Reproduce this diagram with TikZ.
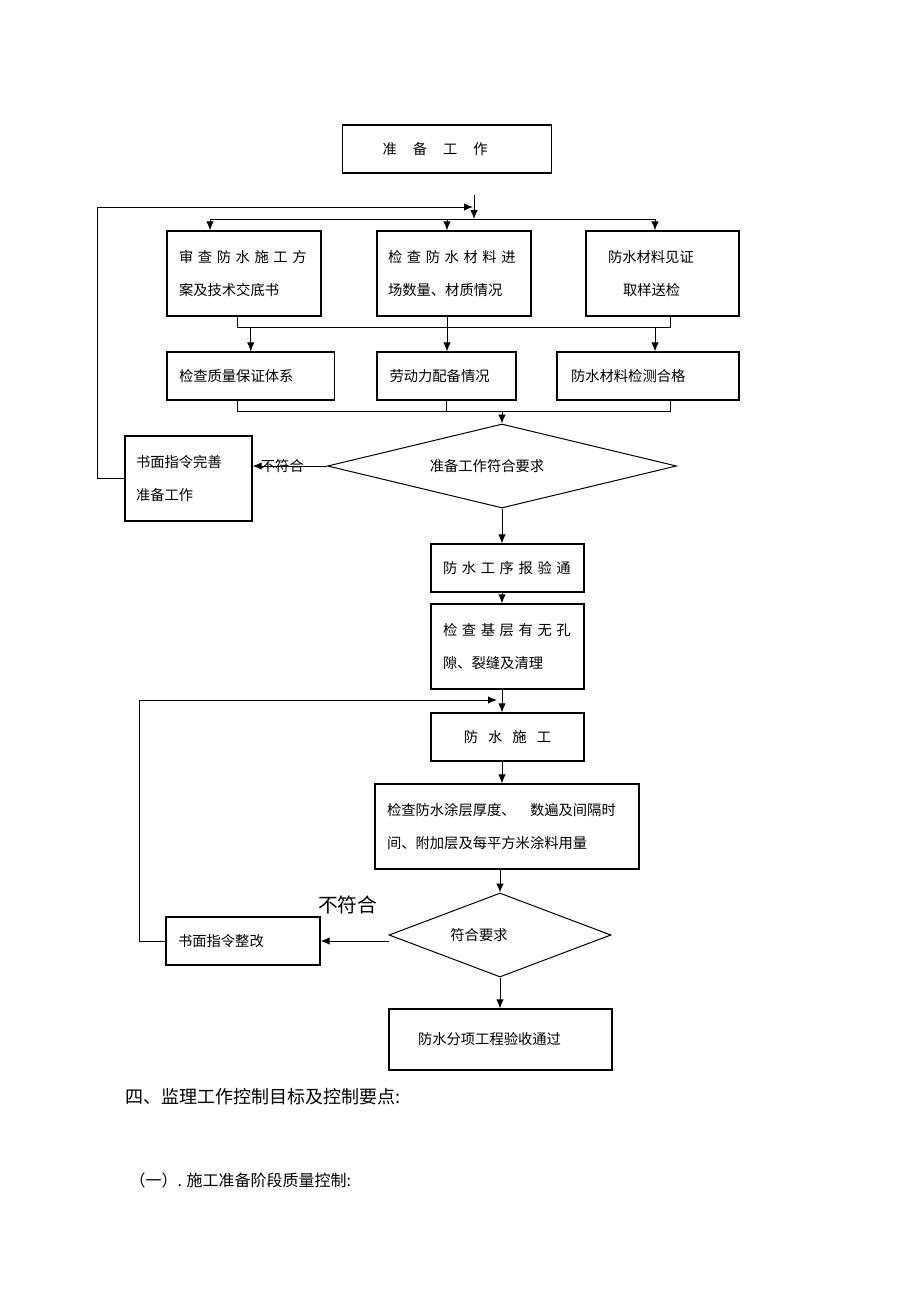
\documentclass[tikz,border=0pt]{standalone}
\usepackage{tikz}
\usepackage{fontspec}
\usetikzlibrary{shapes.geometric}
\usetikzlibrary{arrows.meta}
\newfontfamily\cjk{Noto Sans CJK SC}
\newcommand{\jg}[1][4.6pt]{\hspace{#1}}

\begin{document}
\begin{tikzpicture}[x=1pt, y=-1pt, line width=1pt,
    >={Latex[length=9pt,width=7.5pt]},
    box/.style={draw, line width=1.3pt, align=left, inner ysep=0pt,
        font=\cjk\fontsize{14.3pt}{33pt}\selectfont},
    diam/.style={draw, shape=diamond, line width=1pt, inner sep=0pt,
        font=\cjk\fontsize{14.3pt}{17pt}\selectfont},
    merge/.style={line width=0.8pt},
    note/.style={inner sep=0pt, font=\cjk\fontsize{14.3pt}{17pt}\selectfont}]
    \useasboundingbox (0, 0) rectangle (920, 1303);

    \path (447, 149) node [box, text width=129pt, inner xsep=40pt, minimum height=48pt] (zb) {准\jg[16pt]备\jg[16pt]工\jg[16pt]作};
    \path (474, 195) coordinate (top) (474, 219) coordinate (split);
    \draw [->] (top) -- (split);
    \path (210, 219) coordinate (sl) (447, 219) coordinate (sm) (655, 219) coordinate (sr);
    \draw (sl) -- (sr);

    \path (244, 273.5) node [box, text width=130pt, inner xsep=12pt, minimum height=85pt] (fa)
        {审\jg 查\jg 防\jg 水\jg 施\jg 工\jg 方\\案及技术交底书};
    \path (454, 273.5) node [box, text width=132pt, inner xsep=11pt, minimum height=85pt] (cl)
        {检\jg 查\jg 防\jg 水\jg 材\jg 料\jg 进\\场数量、材质情况};
    \path (662.5, 273.5) node [box, text width=109pt, inner xsep=22pt, minimum height=85pt] (jz)
        {防水材料见证\\\hspace*{15pt}取样送检};
    \draw [->] (sl) -- (sl |- fa.north);
    \draw [->] (sm) -- (sm |- cl.north);
    \draw [->] (sr) -- (sr |- jz.north);

    \path (237, 327) coordinate (m1l) (447, 327) coordinate (m1m) (670, 327) coordinate (m1r);
    \draw [merge] (m1l |- fa.south) -- (m1l) -- (m1r) -- (m1r |- jz.south);
    \draw [merge] (m1m |- cl.south) -- (m1m);

    \path (250.75, 376) node [box, text width=143.5pt, inner xsep=12pt, minimum height=48pt] (zl) {检查质量保证体系};
    \path (446.5, 376) node [box, text width=114pt, inner xsep=12.5pt, minimum height=48pt] (ld) {劳动力配备情况};
    \path (648, 376) node [box, text width=154pt, inner xsep=14pt, minimum height=48pt] (jc) {防水材料检测合格};
    \draw [->] (zl |- m1l) -- (zl.north);
    \draw [->] (m1m) -- (m1m |- ld.north);
    \draw [->] (sr |- m1r) -- (sr |- jc.north);

    \path (237, 411) coordinate (m2l) (670, 411) coordinate (m2r);
    \draw [merge] (m2l |- zl.south) -- (m2l) -- (m2r) -- (m2r |- jc.south);
    \draw [merge] (ld.south) -- (ld |- m2l);

    \path (502, 466) node [diam, minimum width=349pt, minimum height=84pt, aspect=4.15] (fh)
        {准备工作符合要求\hspace{30pt}\mbox{}};
    \draw [->] (fh |- m2l) -- (fh.north);

    \path (188.5, 478.5) node [box, text width=105pt, inner xsep=11pt, minimum height=85pt] (ws)
        {书面指令完善\\准备工作};
    \draw [->] (fh.west) -- (fh.west -| ws.east) node [note, pos=0.6] (bf1) {不符合};
    \path (97.6, 207) coordinate (fbc1) (473, 207) coordinate (fb1);
    \draw [->] (ws.west) -| (fbc1) -- (fb1);

    \path (507.5, 568) node [box, text width=129pt, inner xsep=12pt, minimum height=48pt] (bj)
        {防\jg 水\jg 工\jg 序\jg 报\jg 验\jg 通};
    \path (507.5, 646.5) node [box, text width=129pt, inner xsep=12pt, minimum height=85pt] (jj)
        {检\jg 查\jg 基\jg 层\jg 有\jg 无\jg 孔\\隙、裂缝及清理};
    \path (507.5, 737) node [box, text width=129pt, inner xsep=12pt, minimum height=48pt, align=center] (sg)
        {防\jg[10pt]水\jg[10pt]施\jg[10pt]工};
    \path (507, 826.5) node [box, text width=240pt, inner xsep=12pt, minimum height=85pt] (tc)
        {检查防水涂层厚度、　数遍及间隔时\\间、附加层及每平方米涂料用量};
    \draw [->] (fh.south) -- (fh |- bj.north);
    \draw [->] (fh |- bj.south) -- (fh |- jj.north);
    \draw [->] (fh |- jj.south) -- (fh |- sg.north);
    \draw [->] (fh |- sg.south) -- (fh |- tc.north);

    \path (500, 935) node [diam, minimum width=222pt, minimum height=84pt, aspect=2.64] (fy)
        {符合要求\hspace{42pt}\mbox{}};
    \draw [->] (fy |- tc.south) -- (fy.north);

    \path (243, 941) node [box, text width=130pt, inner xsep=12pt, minimum height=48pt] (zg) {书面指令整改};
    \draw [->] (zg.east -| fy.west) -- (zg.east)
        node [note, pos=0.6, yshift=36pt, font=\cjk\fontsize{19.7pt}{22pt}\selectfont] (bf2) {不符合};
    \path (139, 700) coordinate (fbc2) (497, 700) coordinate (fb2);
    \draw [->] (zg.west) -| (fbc2) -- (fb2);

    \path (500.5, 1039.5) node [box, text width=165pt, inner xsep=29pt, minimum height=61pt] (ys) {防水分项工程验收通过};
    \draw [->] (fy.south) -- (fy |- ys.north);

    \path (125, 1097) node [note, anchor=west, font=\cjk\fontsize{18pt}{20pt}\selectfont] (t4) {四、监理工作控制目标及控制要点:};
    \path (129, 1180) node [note, anchor=west, font=\cjk\fontsize{16pt}{18pt}\selectfont] (t41) {（一）. 施工准备阶段质量控制:};
\end{tikzpicture}
\end{document}
